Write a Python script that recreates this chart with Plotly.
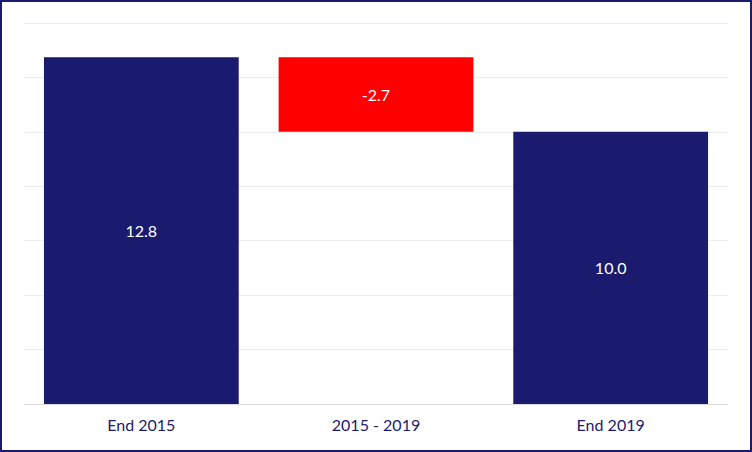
import plotly.graph_objects as go

categories = ["End 2015", "2015 - 2019", "End 2019"]
values = [12.75, -2.74, 10.01]
measures = ["absolute", "relative", "total"]

navy = "#1a1a6e"
red = "#ff0000"

W, H = 752, 452
ml, mr, mt, mb = 24, 24, 7, 48

fig = go.Figure()
fig.add_trace(go.Waterfall(
    x=categories,
    y=values,
    measure=measures,
    text=[f"{v:.1f}" for v in values],
    textposition="inside",
    insidetextanchor="middle",
    textfont=dict(family="Lato", size=16, color="white"),
    totals=dict(marker=dict(color=navy)),
    decreasing=dict(marker=dict(color=red)),
    increasing=dict(marker=dict(color=navy)),
    connector=dict(visible=False),
    showlegend=False,
))

# border round the whole picture
pw = W - ml - mr
ph = H - mt - mb
fig.add_shape(
    type="rect", xref="paper", yref="paper",
    x0=-(ml - 1) / pw, x1=1 + (mr - 1) / pw,
    y0=-(mb - 1) / ph, y1=1 + (mt - 1) / ph,
    line=dict(color=navy, width=2), layer="above",
)

fig.update_layout(
    width=W, height=H,
    margin=dict(l=ml, r=mr, t=mt, b=mb),
    paper_bgcolor="white",
    plot_bgcolor="white",
    waterfallgap=0.17,
    font=dict(family="Lato", size=16, color=navy),
    xaxis=dict(
        showgrid=False,
        showline=True, linecolor="#d9d9d9", linewidth=1,
        ticks="", tickfont=dict(size=16, color=navy),
        ticklabelstandoff=7,
    ),
    yaxis=dict(
        range=[0, 14.6],
        dtick=2,
        showticklabels=False,
        gridcolor="#ebebeb", gridwidth=1,
        zeroline=False,
    ),
)

fig.write_html("out.html", config={"displayModeBar": False},
               post_script="document.body.style.margin='0px';")
